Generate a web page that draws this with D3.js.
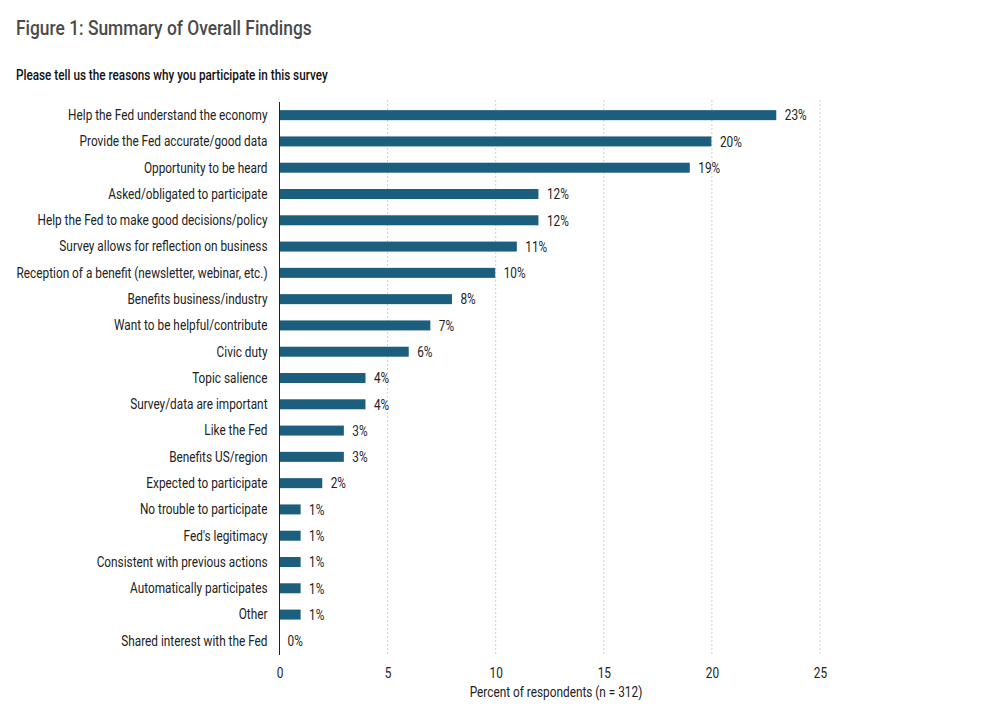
<!DOCTYPE html>
<html><head><meta charset="utf-8">
<script src="https://cdn.jsdelivr.net/npm/d3@7"></script>
<style>
body{margin:0;background:#fff;}
text{font-family:Roboto,"Liberation Sans",sans-serif;}
</style></head>
<body><svg id="c" width="991" height="719"></svg>
<script>
const categories = ["Help the Fed understand the economy","Provide the Fed accurate/good data","Opportunity to be heard","Asked/obligated to participate","Help the Fed to make good decisions/policy","Survey allows for reflection on business","Reception of a benefit (newsletter, webinar, etc.)","Benefits business/industry","Want to be helpful/contribute","Civic duty","Topic salience","Survey/data are important","Like the Fed","Benefits US/region","Expected to participate","No trouble to participate","Fed's legitimacy","Consistent with previous actions","Automatically participates","Other","Shared interest with the Fed"];
const values = [23,20,19,12,12,11,10,8,7,6,4,4,3,3,2,1,1,1,1,1,0];
const xTicks = [0,5,10,15,20,25];
const title = "Figure 1: Summary of Overall Findings";
const subtitle = "Please tell us the reasons why you participate in this survey";
const xLabel = "Percent of respondents (n = 312)";

const svg = d3.select("#c");
const x = d3.scaleLinear().domain([0,25]).range([279.5,820]);
const y = d3.scaleBand().domain(categories).range([102,654]).paddingInner(0.62).paddingOuter(0.31);
const FS = 15;

function measure(str, size, weight){
  const t = svg.append("text").attr("font-size",size).attr("font-weight",weight||400).text(str);
  const w = t.node().getComputedTextLength(); t.remove(); return w;
}
const sxBody = 251 / measure(categories[6], FS, 400);
const sxTitle = 296 / measure(title, 21, 500);
const sxSub = 312 / measure(subtitle, 14, 500);

function condense(sel, sx){
  sel.each(function(){
    const t = d3.select(this);
    const xv = +(t.attr("x")||0);
    t.attr("x", xv/sx).attr("transform", `scale(${sx},1)`);
  });
}

condense(svg.append("text").attr("x",16).attr("y",35.5).attr("font-size",21).attr("font-weight",500).attr("fill","#4a4a4a").text(title), sxTitle);
condense(svg.append("text").attr("x",16).attr("y",80).attr("font-size",14).attr("font-weight",500).attr("fill","#111").text(subtitle), sxSub);

// grid
svg.append("g").selectAll("line").data(xTicks.filter(d=>d>0)).join("line")
  .attr("x1",d=>x(d)).attr("x2",d=>x(d)).attr("y1",100).attr("y2",655)
  .attr("stroke","#cfcfcf").attr("stroke-width",1).attr("stroke-dasharray","2,2");

// bars
svg.append("g").selectAll("rect").data(values).join("rect")
  .attr("x",x(0)+0.5).attr("y",(d,i)=>y(categories[i]))
  .attr("width",d=>Math.max(0,x(d)-x(0)-1)).attr("height",y.bandwidth())
  .attr("fill","#1b5e7e");

// value labels
const vl = svg.append("g").selectAll("text").data(values).join("text")
  .attr("x",d=>x(d)+8).attr("y",(d,i)=>y(categories[i])+y.bandwidth()/2)
  .attr("dy","0.35em").attr("font-size",FS).attr("fill","#222").text(d=>d+"%");
condense(vl, sxBody);

// y axis
const yAxis = d3.axisLeft(y).tickSize(0).tickPadding(12);
const gy = svg.append("g").attr("transform",`translate(${x(0)},0)`).call(yAxis);
gy.select(".domain").remove();
gy.selectAll("text").attr("font-size",FS).attr("fill","#222")
  .style("font-family",'Roboto,"Liberation Sans",sans-serif');
condense(gy.selectAll("text"), sxBody);
svg.append("line").attr("x1",x(0)).attr("x2",x(0)).attr("y1",102).attr("y2",655).attr("stroke","#222").attr("stroke-width",1);

// x axis
const xAxis = d3.axisBottom(x).tickValues(xTicks).tickSize(0).tickPadding(0);
const gx = svg.append("g").attr("transform","translate(0,667)").call(xAxis);
gx.select(".domain").remove();
gx.selectAll("text").attr("font-size",FS).attr("fill","#222").attr("dy","0.71em")
  .style("font-family",'Roboto,"Liberation Sans",sans-serif');
gx.selectAll(".tick").each(function(){
  const tr = d3.select(this).attr("transform");
  const m = /translate\(([-\d.]+),([-\d.]+)\)/.exec(tr);
  d3.select(this).attr("transform",`translate(${+m[1]},0) scale(${sxBody},1)`);
});

condense(svg.append("text").attr("x",556).attr("y",697).attr("text-anchor","middle").attr("font-size",FS).attr("fill","#222").text(xLabel), sxBody);
</script></body></html>
